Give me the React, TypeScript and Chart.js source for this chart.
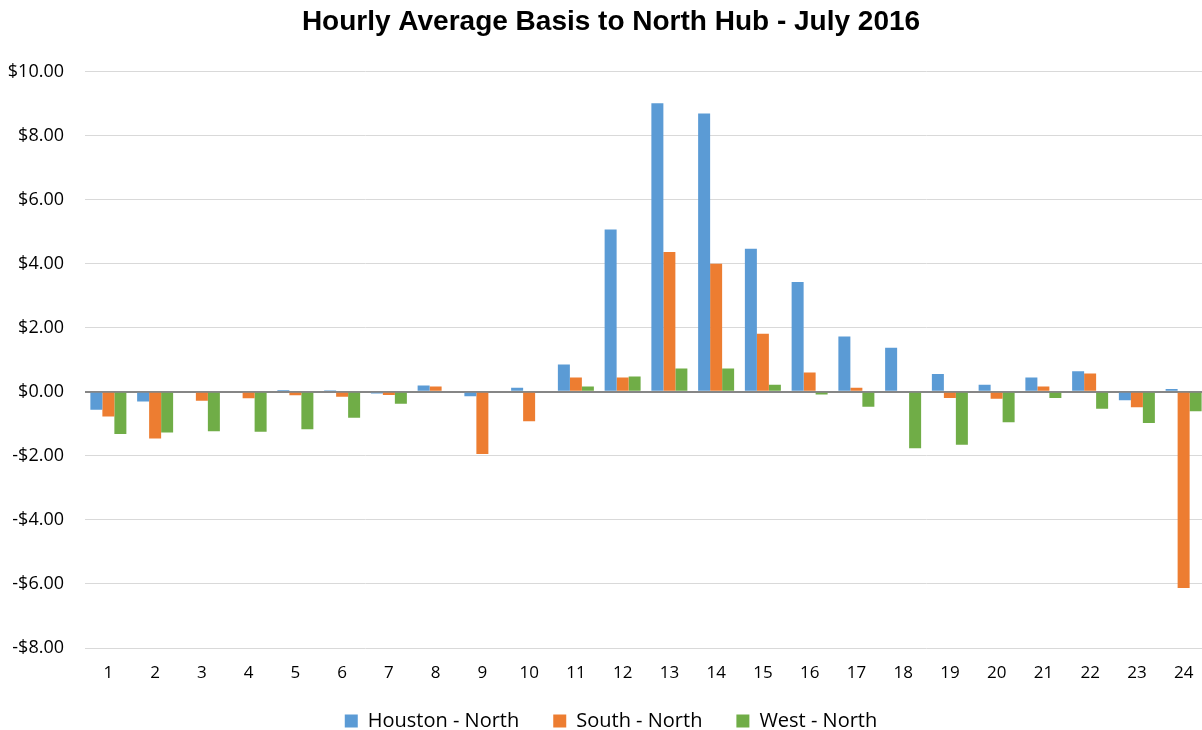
import React, { useEffect, useRef } from "react";
import { Chart, registerables } from "chart.js";

Chart.register(...registerables);

const hours = ["1","2","3","4","5","6","7","8","9","10","11","12","13","14","15","16","17","18","19","20","21","22","23","24"];
const houstonNorth = [-0.56,-0.30,0.0,0.0,0.06,0.05,-0.05,0.20,-0.14,0.13,0.85,5.07,9.01,8.69,4.47,3.43,1.73,1.38,0.56,0.22,0.45,0.64,-0.26,0.09];
const southNorth = [-0.77,-1.46,-0.28,-0.20,-0.11,-0.15,-0.10,0.17,-1.94,-0.92,0.45,0.45,4.37,4.00,1.81,0.60,0.13,0.03,-0.19,-0.22,0.17,0.57,-0.48,-6.13];
const westNorth = [-1.32,-1.27,-1.23,-1.25,-1.17,-0.81,-0.37,0.0,0.0,0.0,0.17,0.48,0.73,0.73,0.22,-0.08,-0.47,-1.76,-1.65,-0.95,-0.19,-0.53,-0.97,-0.61];

const titleText = "Hourly Average Basis to North Hub - July 2016";

// Keeps the legend's vertical footprint compact while allowing wide horizontal gaps between items.
const legendGapPlugin = {
  id: "legendGap",
  beforeLayout(chart: any) {
    const lg: any = chart.legend;
    if (lg && !lg.__patched && typeof lg._draw === "function") {
      lg.__patched = true;
      const fit = lg.fit.bind(lg);
      lg.fit = function () { fit(); this.height -= 19; };
      const draw = lg._draw.bind(lg);
      lg._draw = function () {
        this.ctx.save();
        this.ctx.translate(0, -19);
        draw();
        this.ctx.restore();
      };
    }
  },
};

export default function App() {
  const ref = useRef<HTMLCanvasElement>(null);
  useEffect(() => {
    document.body.style.margin = "0";
    const chart = new Chart(ref.current!, {
      type: "bar",
      data: {
        labels: hours,
        datasets: [
          { label: "Houston - North", data: houstonNorth, backgroundColor: "#5B9BD5" },
          { label: "South - North", data: southNorth, backgroundColor: "#ED7D31" },
          { label: "West - North", data: westNorth, backgroundColor: "#70AD47" },
        ],
      },
      plugins: [legendGapPlugin],
      options: {
        animation: false,
        responsive: false,
        maintainAspectRatio: false,
        datasets: { bar: { categoryPercentage: 0.77, barPercentage: 1 } },
        layout: { padding: { top: 4, right: 0, bottom: -11, left: 0 } },
        plugins: {
          title: {
            display: true,
            text: titleText,
            color: "#000",
            font: { family: "'Liberation Sans', Arial", size: 28, weight: "bold" },
            padding: { top: 1, bottom: 33 },
          },
          legend: {
            position: "bottom",
            labels: {
              color: "#000",
              boxWidth: 13,
              boxHeight: 13,
              padding: 34,
              font: { family: "'Open Sans'", size: 20 },
            },
          },
          tooltip: { enabled: false },
        },
        scales: {
          x: {
            afterFit: (s: any) => { s.height = 48; },
            grid: { display: false, drawTicks: false },
            border: { display: false },
            ticks: { color: "#000", padding: 15, font: { family: "'Open Sans'", size: 17 } },
          },
          y: {
            min: -8,
            max: 10,
            afterFit: (s: any) => { s.width = 85; },
            border: { display: false },
            grid: {
              drawTicks: false,
              color: (c: any) => (c.tick && c.tick.value === 0 ? "#868686" : "#d9d9d9"),
              lineWidth: (c: any) => (c.tick && c.tick.value === 0 ? 2 : 1),
            },
            ticks: {
              stepSize: 2,
              color: "#000",
              padding: 21,
              font: { family: "'Open Sans'", size: 18 },
              callback: (v: any) => (Number(v) < 0 ? "-$" + Math.abs(Number(v)).toFixed(2) : "$" + Number(v).toFixed(2)),
            },
          },
          spacer: {
            type: "linear",
            position: "right",
            display: true,
            afterFit: (s: any) => { s.width = 15; },
            grid: { display: false, drawTicks: false },
            border: { display: false },
            ticks: { display: false },
          },
        },
      },
    });
    return () => chart.destroy();
  }, []);
  return (
    <div style={{ width: 1202, height: 730, background: "#fff", overflow: "hidden" }}>
      <canvas ref={ref} width={1222} height={730} style={{ display: "block" }} />
    </div>
  );
}
